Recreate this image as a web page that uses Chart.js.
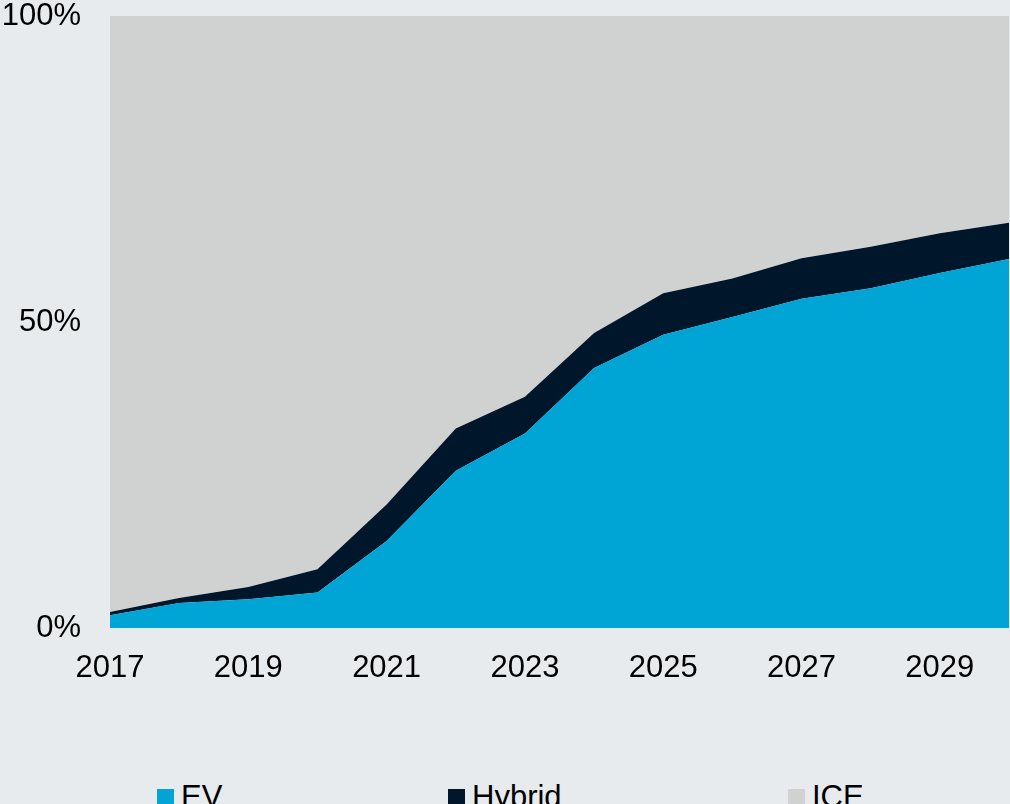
<!DOCTYPE html>
<html>
<head>
<meta charset="utf-8">
<script src="https://cdn.jsdelivr.net/npm/chart.js@4"></script>
<style>
    html, body { margin: 0; padding: 0; background: #e7ebee; overflow: hidden; }
    body { width: 1010px; height: 804px; position: relative; font-family: "Liberation Sans", Arial, sans-serif; }
    #wrap { position: absolute; left: 0; top: 0; width: 1010px; height: 700px; }
    .legend-item { position: absolute; top: 781px; font-size: 31px; line-height: 31px; color: #000; white-space: nowrap; }
    .legend-item .box { position: absolute; left: 0; top: 8px; width: 17px; height: 17px; }
    .legend-item .txt { position: absolute; left: 24px; top: 0; }
</style>
</head>
<body>
<div id="wrap"><canvas id="shareChart"></canvas></div>
<div id="legend"></div>
<script>
const years = ['2017', '2018', '2019', '2020', '2021', '2022', '2023', '2024', '2025', '2026', '2027', '2028', '2029', '2030'];
const evShare = [2.1, 4.1, 4.7, 5.8, 14.2, 25.7, 31.8, 42.5, 47.9, 50.8, 53.8, 55.5, 58.0, 60.3];
const hybridShare = [0.5, 0.8, 2.0, 3.8, 6.0, 6.9, 6.0, 5.7, 6.8, 6.3, 6.6, 6.8, 6.5, 5.9];
const iceShare = [97.4, 95.1, 93.3, 90.4, 79.8, 67.4, 62.2, 51.8, 45.3, 42.9, 39.6, 37.7, 35.5, 33.8];
const yTicks = [0, 50, 100];

const colors = { ev: '#00a5d6', hybrid: '#00162a', ice: '#d0d2d1' };
const font = { family: '"Liberation Sans", Arial, sans-serif', size: 31 };

function area(label, data, color, fill) {
    return {
        label: label,
        data: data,
        backgroundColor: color,
        borderColor: color,
        borderWidth: 0,
        pointRadius: 0,
        tension: 0,
        fill: fill
    };
}

// drop the label overhang so the plot box sits where the reference has it
function noOverhang(scale) {
    scale.paddingTop = 0;
    scale.paddingBottom = 0;
    scale.paddingLeft = 0;
    scale.paddingRight = 0;
}

const ctx = document.getElementById('shareChart').getContext('2d');
const chart = new Chart(ctx, {
    type: 'line',
    data: {
        labels: years,
        datasets: [
            area('EV', evShare, colors.ev, 'origin'),
            area('Hybrid', hybridShare, colors.hybrid, '-1'),
            area('ICE', iceShare, colors.ice, '-1')
        ]
    },
    options: {
        responsive: true,
        maintainAspectRatio: false,
        animation: false,
        layout: { padding: { top: 16, right: 1, left: 0, bottom: 0 } },
        plugins: {
            legend: { display: false },
            tooltip: { enabled: false }
        },
        scales: {
            x: {
                offset: false,
                grid: { display: false, drawTicks: false },
                border: { display: false },
                afterFit: (scale) => { scale.height = 72; noOverhang(scale); },
                ticks: {
                    color: '#000',
                    font: font,
                    padding: 22,
                    autoSkip: false,
                    maxRotation: 0,
                    callback: function (value, index) {
                        return index % 2 === 0 && index < years.length - 1 ? years[index] : '';
                    }
                }
            },
            y: {
                stacked: true,
                min: 0,
                max: 100,
                grid: { display: false, drawTicks: false },
                border: { display: false },
                afterFit: (scale) => { scale.width = 110; noOverhang(scale); },
                afterBuildTicks: (scale) => { scale.ticks = yTicks.map(v => ({ value: v })); },
                ticks: {
                    color: '#000',
                    font: Object.assign({ lineHeight: 1 }, font),
                    padding: 29,
                    callback: (v) => v + '%'
                }
            }
        }
    }
});

// legend drawn as html so the wide spacing matches
const legendPos = [157, 448, 788];
const legendEl = document.getElementById('legend');
chart.data.datasets.forEach((ds, i) => {
    const item = document.createElement('div');
    item.className = 'legend-item';
    item.style.left = legendPos[i] + 'px';
    item.innerHTML = '<span class="box" style="background:' + ds.backgroundColor + '"></span><span class="txt">' + ds.label + '</span>';
    legendEl.appendChild(item);
});
</script>
</body>
</html>
